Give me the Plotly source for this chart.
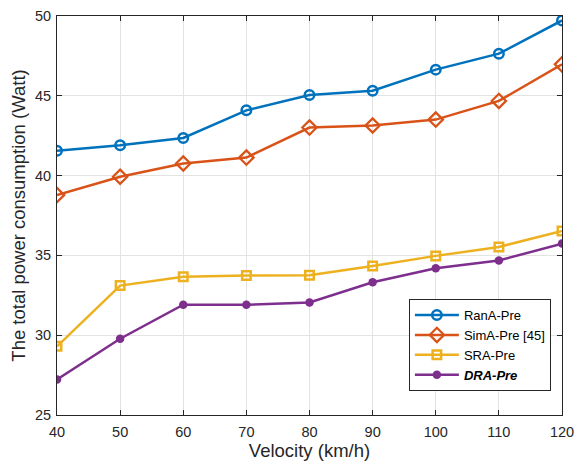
import plotly.graph_objects as go

velocity = [40, 50, 60, 70, 80, 90, 100, 110, 120]
rana_pre = [41.55, 41.9, 42.36, 44.09, 45.05, 45.32, 46.64, 47.64, 49.72]
sima_pre = [38.78, 39.93, 40.76, 41.13, 43.01, 43.14, 43.51, 44.68, 46.97]
sra_pre = [29.3, 33.11, 33.66, 33.74, 33.76, 34.34, 34.97, 35.53, 36.53]
dra_pre = [27.22, 29.78, 31.91, 31.91, 32.05, 33.32, 34.2, 34.68, 35.74]

x_ticks = [40, 50, 60, 70, 80, 90, 100, 110, 120]
y_ticks = [25, 30, 35, 40, 45, 50]

LW = 2.5
fig = go.Figure()
fig.add_trace(go.Scatter(x=velocity, y=rana_pre, name="RanA-Pre", mode="lines+markers",
                         line=dict(color="#0072BD", width=LW),
                         marker=dict(symbol="circle-open", size=9.5, line=dict(width=2.5, color="#0072BD"))))
fig.add_trace(go.Scatter(x=velocity, y=sima_pre, name="SimA-Pre [45]", mode="lines+markers",
                         line=dict(color="#D95319", width=LW),
                         marker=dict(symbol="diamond-open", size=11, line=dict(width=2.3, color="#D95319"))))
fig.add_trace(go.Scatter(x=velocity, y=sra_pre, name="SRA-Pre", mode="lines+markers",
                         line=dict(color="#EDB120", width=LW),
                         marker=dict(symbol="square-open", size=8.5, line=dict(width=2.5, color="#EDB120"))))
fig.add_trace(go.Scatter(x=velocity, y=dra_pre, name="<b><i>DRA-Pre</i></b>", mode="lines+markers",
                         line=dict(color="#7E2F8E", width=LW),
                         marker=dict(symbol="circle", size=8.5, color="#7E2F8E")))

axis_common = dict(
    showline=True, linecolor="#262626", linewidth=1, mirror="ticks",
    ticks="inside", ticklen=5, tickcolor="#262626", tickwidth=1,
    showgrid=True, gridcolor="#e3e3e3", gridwidth=1, zeroline=False,
    automargin=False,
    tickfont=dict(family="Liberation Sans, Arial", size=14.5, color="#262626"),
)

fig.update_layout(
    width=575, height=468,
    margin=dict(l=56.5, r=13, t=15.5, b=53),
    plot_bgcolor="white", paper_bgcolor="white",
    font=dict(family="Liberation Sans, Arial", color="#262626"),
    xaxis=dict(range=[40, 120], tickvals=x_ticks, ticklabelstandoff=4,
               title=dict(text="Velocity (km/h)", font=dict(size=18.5), standoff=4), **axis_common),
    yaxis=dict(range=[25, 50], tickvals=y_ticks, ticklabelstandoff=2,
               title=dict(text="The total power consumption (Watt)", font=dict(size=18.5), standoff=4), **axis_common),
    legend=dict(x=0.978, y=0.06, xanchor="right", yanchor="bottom",
                bgcolor="white", bordercolor="#262626", borderwidth=1,
                font=dict(size=13, color="#000000"), tracegroupgap=0, itemwidth=44,
                itemsizing="trace"),
    showlegend=True,
)

fig.write_html("out.html")
